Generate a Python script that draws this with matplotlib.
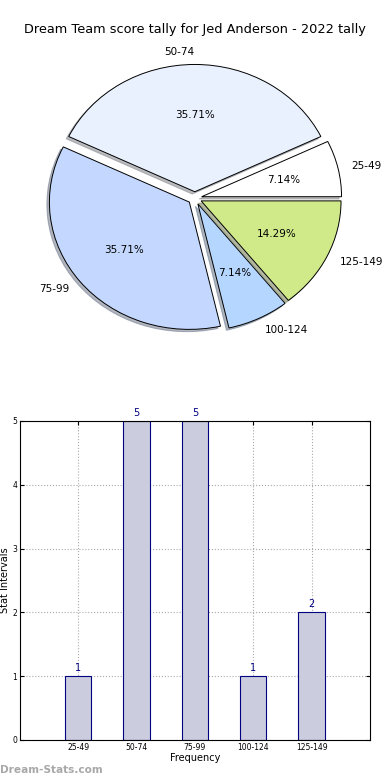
import numpy as np
import matplotlib
matplotlib.use("Agg")
import matplotlib.pyplot as plt

# score intervals and how many rounds fell in each
intervals = ["25-49", "50-74", "75-99", "100-124", "125-149"]
counts = [1, 5, 5, 1, 2]
pie_colors = ["#ffffff", "#e9f1ff", "#c4d8ff", "#b5d6ff", "#d0ea8a"]
explode = [0.05, 0.05, 0.05, 0.05, 0.05]

fig = plt.figure(figsize=(3.9, 7.8), dpi=100)

# pie chart on top
ax1 = fig.add_axes([0.051, 0.542, 0.897, 0.408])
wedges, texts, autotexts = ax1.pie(counts, labels=intervals, colors=pie_colors,
                                   explode=explode, autopct="%.2f%%",
                                   shadow={"ox": -0.013, "oy": -0.013, "shade": 0.5},
                                   startangle=0, counterclock=True,
                                   wedgeprops=dict(edgecolor="black", linewidth=0.7),
                                   textprops=dict(fontsize=7.5))
ax1.set_aspect("auto")
ax1.set_xlim(-1.25, 1.25)
ax1.set_ylim(-1.25, 1.25)
fig.text(0.5, 1 - 30 / 780, "Dream Team score tally for Jed Anderson - 2022 tally",
         ha="center", va="center", fontsize=9.3)

# bar chart below
ax2 = fig.add_axes([0.0513, 0.0513, 0.897, 0.409])
x = np.arange(len(intervals))
bars = ax2.bar(x, counts, width=0.45, color="#ccccdf", edgecolor="#000080", linewidth=0.8, zorder=2)
for xi, c in zip(x, counts):
    ax2.text(xi, c + 0.05, str(c), ha="center", va="bottom", color="#000080", fontsize=7)
ax2.set_xlim(-1, 5)
ax2.set_ylim(0, 5)
ax2.set_xticks(x)
ax2.set_xticklabels(intervals)
ax2.set_yticks(range(6))
ax2.tick_params(labelsize=5.5, direction="in", top=True, right=True, length=3, pad=2)
ax2.grid(True, linestyle=":", color="#aaaaaa", linewidth=0.8, zorder=0)
ax2.set_xlabel("Frequency", fontsize=7, labelpad=1)
ax2.set_ylabel("Stat Intervals", fontsize=7, labelpad=2)

fig.text(0.0, 1 - 770 / 780, "Dream-Stats.com", ha="left", va="center",
         fontsize=7.6, color="#a8a8a8", fontweight="bold")

fig.savefig("out.png", dpi=100)
